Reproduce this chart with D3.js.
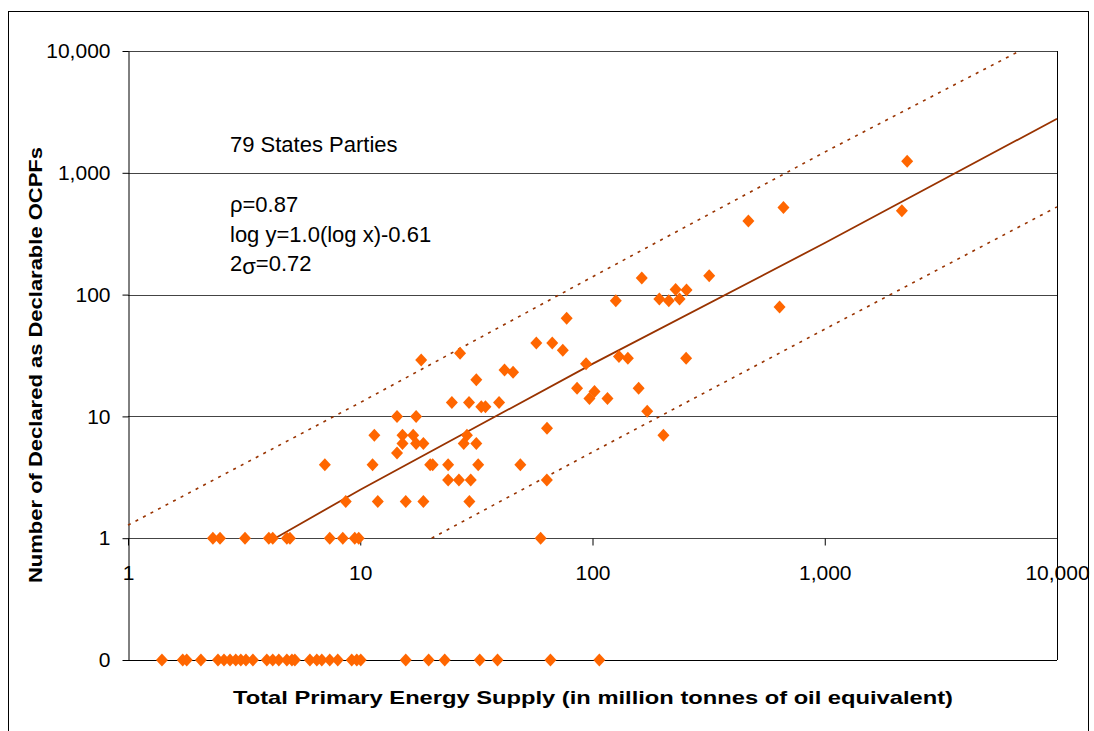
<!DOCTYPE html>
<html>
<head>
<meta charset="utf-8">
<script src="https://cdn.jsdelivr.net/npm/d3@7"></script>
<style>
  body { margin: 0; background: #fff; }
  svg { display: block; font-family: "Liberation Sans", Arial, sans-serif; }
  .tick text { font-size: 21px; fill: #000; }
  .axis-title { font-size: 19px; font-weight: bold; }
  .note { font-size: 22px; }
</style>
</head>
<body>
<svg width="1094" height="731"></svg>
<script>
// States parties with at least one declared OCPF: energy supply (Mtoe) and count
const energyX = [2.32, 2.49, 3.19, 4.04, 4.20, 4.83, 4.98, 7.39, 8.41, 9.47, 9.85, 59.8,
  18.3, 26.9, 31.6, 41.8, 45.5, 24.8, 29.4, 33.2, 34.6, 39.6,
  14.4, 17.4, 11.5, 15.2, 16.9, 15.2, 17.4, 18.7, 28.8, 27.9, 31.6, 14.4,
  7.04, 11.3, 20.0, 20.5, 23.9, 32.2, 48.9, 23.9, 26.6, 29.9,
  8.66, 11.9, 15.7, 18.7, 29.5,
  163, 318, 126, 194, 213, 228, 237, 254, 77.4, 57.3, 67.1, 74.5, 93.8, 130, 142, 253,
  85.8, 102, 97, 116, 158, 172, 63.7, 202, 639, 63.6,
  469, 664, 2264, 2148];
const declaredY = [1, 1, 1, 1, 1, 1, 1, 1, 1, 1, 1, 1,
  29, 33, 20, 24, 23, 13, 13, 12, 12, 13,
  10, 10, 7, 7, 7, 6, 6, 6, 7, 6, 6, 5,
  4, 4, 4, 4, 4, 4, 4, 3, 3, 3,
  2, 2, 2, 2, 2,
  137, 143, 89, 92, 89, 110, 92, 109, 64, 40, 40, 35, 27, 31, 30, 30,
  17, 16, 14, 14, 17, 11, 8, 7, 79, 3,
  402, 520, 1242, 488];

// States parties with zero declared OCPFs
const zeroEnergyX = [1.40, 1.72, 1.79, 2.06, 2.44, 2.59, 2.75, 2.91, 3.06, 3.22, 3.45,
  3.96, 4.20, 4.46, 4.83, 5.08, 5.23, 6.07, 6.50, 6.83, 7.39, 8.00, 9.19, 9.66, 10.05,
  15.7, 19.7, 23.1, 32.7, 39.0, 65.9, 107];

// fitted line and 2 sigma band
const trendX = [4.3, 10, 100, 1000, 10000];
const trendY = [1, 2.5, 27, 265, 2780];
const upperX = [1, 10, 100, 1000, 6900];
const upperY = [1.28, 13, 140, 1480, 10000];
const lowerX = [20.3, 100, 1000, 10000];
const lowerY = [1, 5.1, 52, 525];

const xTicks = [1, 10, 100, 1000, 10000];
const xTickLabels = ["1", "10", "100", "1,000", "10,000"];
const yTicks = [0.1, 1, 10, 100, 1000, 10000]; // 0.1 slot holds the "0" row
const yTickLabels = ["0", "1", "10", "100", "1,000", "10,000"];
const zeroSlot = 0.1;

const notes = ["79 States Parties", "ρ=0.87", "log y=1.0(log x)-0.61"];

const svg = d3.select("svg");
const brown = "#993300";
const orange = "#FF6600";

const x = d3.scaleLog().domain([1, 10000]).range([128, 1057]);
const y = d3.scaleLog().domain([0.1, 10000]).range([660, 51]);

// outer frame
svg.append("rect")
  .attr("x", 8.5).attr("y", 11.5)
  .attr("width", 1080).attr("height", 740)
  .attr("fill", "none").attr("stroke", "#000");

// gridlines
svg.append("g").selectAll("line")
  .data([1, 10, 100, 1000, 10000])
  .join("line")
  .attr("x1", x(1)).attr("x2", x(10000))
  .attr("y1", d => Math.round(y(d)) + 0.5)
  .attr("y2", d => Math.round(y(d)) + 0.5)
  .attr("stroke", "#444").attr("stroke-width", 1);

// bottom (zero) line and right border
svg.append("line")
  .attr("x1", x(1)).attr("x2", x(10000))
  .attr("y1", y(zeroSlot) + 0.5).attr("y2", y(zeroSlot) + 0.5)
  .attr("stroke", "#000");
svg.append("line")
  .attr("x1", x(10000) + 0.5).attr("x2", x(10000) + 0.5)
  .attr("y1", y(10000)).attr("y2", y(zeroSlot))
  .attr("stroke", "#000");

// y axis
const yAxis = svg.append("g")
  .attr("transform", "translate(128.5,0)")
  .call(d3.axisLeft(y)
    .tickValues(yTicks)
    .tickFormat((d, i) => yTickLabels[i])
    .tickSize(6)
    .tickSizeOuter(0)
    .tickPadding(12));
yAxis.selectAll("path, line").attr("stroke", "#000");

// x axis sits on the y = 1 line
const xAxis = svg.append("g")
  .attr("transform", `translate(0,${Math.round(y(1)) + 0.5})`)
  .call(d3.axisBottom(x)
    .tickValues(xTicks)
    .tickFormat((d, i) => xTickLabels[i])
    .tickSize(7)
    .tickPadding(20));
xAxis.select(".domain").remove();
xAxis.selectAll("line").attr("stroke", "#000");

// lines
const line = d3.line().x(d => x(d[0])).y(d => y(d[1]));
svg.append("path")
  .datum(d3.zip(upperX, upperY))
  .attr("d", line).attr("fill", "none")
  .attr("stroke", brown).attr("stroke-width", 1.6)
  .attr("stroke-dasharray", "3,5.5");
svg.append("path")
  .datum(d3.zip(lowerX, lowerY))
  .attr("d", line).attr("fill", "none")
  .attr("stroke", brown).attr("stroke-width", 1.6)
  .attr("stroke-dasharray", "3,5.5");
svg.append("path")
  .datum(d3.zip(trendX, trendY))
  .attr("d", line).attr("fill", "none")
  .attr("stroke", brown).attr("stroke-width", 1.8);

// diamonds
const diamond = "M0,-6.5L6,0L0,6.5L-6,0Z";
svg.append("g").selectAll("path")
  .data(d3.zip(energyX, declaredY))
  .join("path")
  .attr("d", diamond)
  .attr("transform", d => `translate(${x(d[0])},${y(d[1])})`)
  .attr("fill", orange);
svg.append("g").selectAll("path")
  .data(zeroEnergyX)
  .join("path")
  .attr("d", diamond)
  .attr("transform", d => `translate(${x(d)},${y(zeroSlot)})`)
  .attr("fill", orange);

// notes
const noteY = [152, 212, 241.5];
notes.forEach((t, i) => {
  svg.append("text").attr("class", "note")
    .attr("x", 230).attr("y", noteY[i]).text(t);
});
const sig = svg.append("text").attr("class", "note").attr("x", 230).attr("y", 270.5);
sig.append("tspan").text("2");
sig.append("tspan").attr("dy", 3).text("σ");
sig.append("tspan").attr("dy", -3).text("=0.72");

// axis titles
svg.append("text")
  .attr("class", "axis-title")
  .attr("x", 593).attr("y", 704)
  .attr("text-anchor", "middle")
  .attr("textLength", 720).attr("lengthAdjust", "spacingAndGlyphs")
  .text("Total Primary Energy Supply (in million tonnes of oil equivalent)");

svg.append("text")
  .attr("class", "axis-title")
  .attr("transform", "translate(42,365) rotate(-90)")
  .attr("text-anchor", "middle")
  .attr("textLength", 436).attr("lengthAdjust", "spacingAndGlyphs")
  .text("Number of Declared as Declarable OCPFs");
</script>
</body>
</html>
